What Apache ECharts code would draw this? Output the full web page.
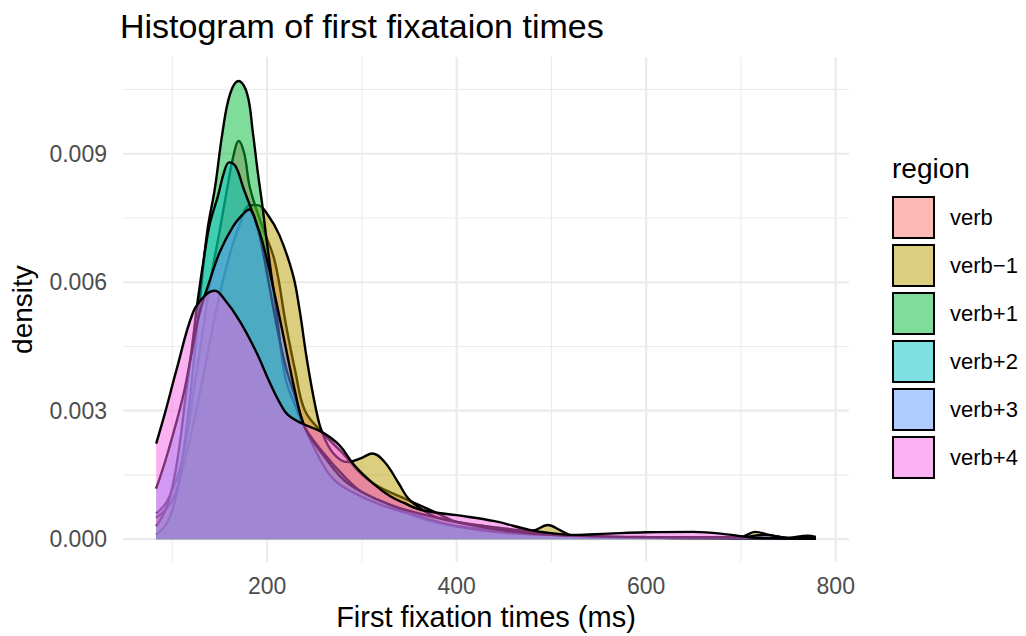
<!DOCTYPE html>
<html>
<head>
<meta charset="utf-8">
<script src="https://cdn.jsdelivr.net/npm/echarts@6/dist/echarts.min.js"></script>
<style>
  html, body { margin: 0; padding: 0; background: #fff; }
  #chart { width: 1026px; height: 636px; }
</style>
</head>
<body>
<div id="chart"></div>
<script>
// ---------- data ----------
const regionNames = ['verb', 'verb\u22121', 'verb+1', 'verb+2', 'verb+3', 'verb+4'];
const regionColors = ['#F8766D', '#B79F00', '#00BA38', '#00BFC4', '#619CFF', '#F564E3'];

const verbX = [83, 95, 110, 125, 140, 150, 158, 165, 170, 176, 182, 195, 208, 220, 230, 240, 258, 280, 300, 320, 340, 360, 380, 400, 430, 470, 500, 550, 600, 650, 700, 740, 779];
const verbY = [0.0006, 0.0009, 0.0018, 0.0038, 0.0060, 0.0072, 0.0082, 0.0090, 0.0093, 0.0090, 0.0082, 0.0073, 0.0065, 0.0050, 0.0039, 0.0030, 0.0025, 0.0020, 0.0015, 0.0012, 0.0010, 0.0008, 0.0006, 0.0004, 0.0003, 0.0002, 0.0001, 0.00005, 0.00004, 0.00004, 0.00003, 0.00002, 0.00001];

const verbM1X = [83, 100, 115, 130, 145, 160, 172, 182, 190, 200, 213, 227, 234, 242, 251, 258, 270, 285, 300, 311, 324, 339, 349, 363, 380, 400, 430, 460, 480, 496, 510, 525, 560, 600, 650, 700, 715, 730, 750, 770, 779];
const verbM1Y = [0.0005, 0.0009, 0.0020, 0.0035, 0.0052, 0.0066, 0.0074, 0.0078, 0.0078, 0.0076, 0.0071, 0.0062, 0.0054, 0.0042, 0.0031, 0.0025, 0.0020, 0.0018, 0.0019, 0.0020, 0.0018, 0.0013, 0.00095, 0.0007, 0.0005, 0.0004, 0.0003, 0.0002, 0.0002, 0.00033, 0.0002, 0.00006, 0.00004, 0.00004, 0.00004, 0.00005, 0.00017, 0.0001, 0.00003, 0.00008, 0.00005];

const verbP1X = [83, 95, 105, 115, 122, 129, 137, 145, 153, 161, 170, 179, 185, 190, 195, 200, 210, 219, 230, 240, 260, 280, 300, 330, 360, 400, 450, 500, 550, 600, 700, 779];
const verbP1Y = [0.0001, 0.0004, 0.0011, 0.0026, 0.0040, 0.0056, 0.0072, 0.0082, 0.0095, 0.0104, 0.0107, 0.0104, 0.0095, 0.0086, 0.0078, 0.0069, 0.0053, 0.0038, 0.0031, 0.0026, 0.0020, 0.0015, 0.0011, 0.0008, 0.0005, 0.0003, 0.0002, 0.0001, 0.00005, 0.00003, 0.00002, 0.00001];

const verbP2X = [83, 95, 105, 115, 122, 127, 135, 140, 148, 155, 160, 167, 175, 185, 192, 200, 210, 220, 230, 240, 255, 270, 290, 320, 350, 400, 450, 500, 600, 700, 779];
const verbP2Y = [0.0003, 0.0008, 0.0018, 0.0035, 0.0047, 0.0056, 0.0068, 0.0074, 0.0080, 0.0086, 0.0088, 0.0087, 0.0082, 0.0076, 0.0071, 0.0062, 0.0050, 0.0040, 0.0033, 0.0026, 0.0019, 0.0014, 0.0011, 0.0008, 0.0006, 0.0003, 0.00015, 0.0001, 0.00004, 0.00002, 0.00001];

const verbP3X = [83, 95, 111, 120, 129, 139, 150, 164, 175, 181, 190, 198, 213, 230, 240, 258, 280, 300, 330, 360, 400, 450, 500, 600, 700, 723, 750, 779];
const verbP3Y = [0.00118, 0.0020, 0.0033, 0.0043, 0.0053, 0.0060, 0.0067, 0.0073, 0.0076, 0.0077, 0.0073, 0.0067, 0.0052, 0.0034, 0.0026, 0.0020, 0.0014, 0.0011, 0.0008, 0.0006, 0.0004, 0.0002, 0.0001, 0.00005, 0.00004, 0.0001, 0.00003, 0.00001];

const verbP4X = [83, 93, 105, 122, 135, 145, 155, 171, 188, 202, 213, 222, 237, 258, 276, 293, 314, 330, 345, 363, 400, 440, 478, 500, 524, 560, 600, 650, 690, 710, 740, 779];
const verbP4Y = [0.00223, 0.0030, 0.0040, 0.0053, 0.0057, 0.0058, 0.0056, 0.0051, 0.0044, 0.0037, 0.0032, 0.0029, 0.0027, 0.0025, 0.0022, 0.0017, 0.00126, 0.0010, 0.00084, 0.00068, 0.00056, 0.00042, 0.00021, 0.00014, 0.0001, 0.00013, 0.00016, 0.00017, 0.0001, 0.00004, 0.00002, 0.00001];

const seriesX = [verbX, verbM1X, verbP1X, verbP2X, verbP3X, verbP4X];
const seriesY = [verbY, verbM1Y, verbP1Y, verbP2Y, verbP3Y, verbP4Y];

const xMajorTicks = [200, 400, 600, 800];
const xMinorTicks = [100, 300, 500, 700];
const yMajorTicks = [0, 0.003, 0.006, 0.009];
const yMinorTicks = [0.0015, 0.0045, 0.0075, 0.0105];

const xMin = 48, xMax = 814;
const yMin = -0.000536, yMax = 0.01126;

// ---------- chart ----------
const FONT = '"Liberation Sans", Arial, Helvetica, sans-serif';
const chart = echarts.init(document.getElementById('chart'), null, { renderer: 'svg' });

const gridData = [];
xMajorTicks.forEach(v => gridData.push([v, 0, 1]));
xMinorTicks.forEach(v => gridData.push([v, 0, 0]));
yMajorTicks.forEach(v => gridData.push([v, 1, 1]));
yMinorTicks.forEach(v => gridData.push([v, 1, 0]));

const series = [{
  type: 'custom',
  name: 'grid',
  silent: true,
  z: 1,
  encode: { x: 0 },
  data: gridData,
  renderItem: function (params, api) {
    const v = api.value(0), dim = api.value(1), major = api.value(2);
    const cs = params.coordSys;
    let shape;
    if (dim === 0) {
      const px = api.coord([v, 0])[0];
      shape = { x1: px, y1: cs.y, x2: px, y2: cs.y + cs.height };
    } else {
      const py = api.coord([100, v])[1];
      shape = { x1: cs.x, y1: py, x2: cs.x + cs.width, y2: py };
    }
    return {
      type: 'line',
      shape: shape,
      style: { stroke: '#EBEBEB', lineWidth: major ? 2.2 : 1.1 }
    };
  }
}];

regionNames.forEach((name, i) => {
  series.push({
    type: 'line',
    name: name,
    z: 3 + i,
    smooth: 0.4,
    showSymbol: false,
    symbol: 'none',
    silent: true,
    itemStyle: { color: regionColors[i] },
    lineStyle: { color: '#000', width: 2.4 },
    areaStyle: { color: regionColors[i], opacity: 0.5 },
    data: seriesX[i].map((x, k) => [x, seriesY[i][k]])
  });
});

function hexToRgba(hex, a) {
  const n = parseInt(hex.slice(1), 16);
  return 'rgba(' + ((n >> 16) & 255) + ',' + ((n >> 8) & 255) + ',' + (n & 255) + ',' + a + ')';
}

const option = {
  backgroundColor: '#fff',
  animation: false,
  textStyle: { fontFamily: FONT },
  title: [{
    text: 'Histogram of first fixataion times',
    left: 115, top: 4,
    textStyle: { fontSize: 34, fontWeight: 'normal', color: '#000', fontFamily: FONT }
  }, {
    text: 'region',
    left: 887, top: 149,
    textStyle: { fontSize: 28, fontWeight: 'normal', color: '#000', fontFamily: FONT }
  }],
  legend: {
    orient: 'vertical',
    left: 892, top: 196,
    padding: 0,
    itemWidth: 41, itemHeight: 41, itemGap: 5,
    icon: 'rect',
    selectedMode: false,
    itemStyle: { borderColor: '#000', borderWidth: 2 },
    textStyle: { fontSize: 22, color: '#000', fontFamily: FONT, padding: [0, 0, 0, 11] },
    data: regionNames.map((n, i) => ({
      name: n,
      icon: 'rect',
      itemStyle: { color: hexToRgba(regionColors[i], 0.5), borderColor: '#000', borderWidth: 2 }
    }))
  },
  grid: { left: 120, right: 177, top: 57, bottom: 72, containLabel: false },
  xAxis: {
    type: 'value', min: xMin, max: xMax,
    name: 'First fixation times (ms)',
    nameLocation: 'middle', nameGap: 33,
    nameTextStyle: { fontSize: 29, color: '#000', fontFamily: FONT },
    axisLine: { show: false }, axisTick: { show: false }, splitLine: { show: false },
    axisLabel: { customValues: xMajorTicks, fontSize: 23, color: '#4D4D4D', margin: 12, fontFamily: FONT }
  },
  yAxis: {
    type: 'value', min: yMin, max: yMax,
    name: 'density',
    nameLocation: 'middle', nameGap: 87, nameRotate: 90,
    nameTextStyle: { fontSize: 28, color: '#000', fontFamily: FONT },
    axisLine: { show: false }, axisTick: { show: false }, splitLine: { show: false },
    axisLabel: {
      customValues: yMajorTicks, fontSize: 23, color: '#4D4D4D', margin: 16, fontFamily: FONT,
      formatter: v => Number(v).toFixed(3)
    }
  },
  series: series
};
chart.setOption(option);
</script>
</body>
</html>
